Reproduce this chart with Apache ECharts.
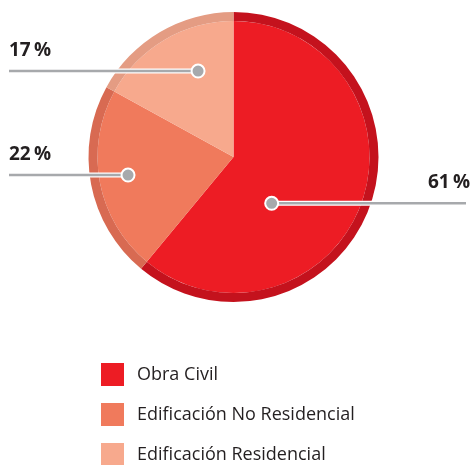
<!DOCTYPE html>
<html>
<head>
<meta charset="utf-8">
<script src="https://cdn.jsdelivr.net/npm/echarts@6/dist/echarts.min.js"></script>
<style>
  html, body { margin: 0; padding: 0; background: #fff; }
  #chart { width: 473px; height: 465px; }
</style>
</head>
<body>
<div id="chart"></div>
<script>
// datos
const categories = ['Obra Civil', 'Edificación No Residencial', 'Edificación Residencial']
const shares = [61, 22, 17]

// colores: relleno y anillo exterior
const fillColors = ['#ED1C24', '#F07A5C', '#F7A98D']
const ringColors = ['#C4121D', '#D86A52', '#E49C83']

// posición de los marcadores (radio, ángulo) y lado de la etiqueta
const calloutAnchors = [[60, 140.5, 'right'], [107, 260.3, 'left'], [93, 337.6, 'left']]

const CX = 233.5, CY = 157, R = 145, RING = 9

const chart = echarts.init(document.getElementById('chart'), null, { renderer: 'canvas' })

const pieData = categories.map((name, i) => ({ name, value: shares[i], itemStyle: { color: fillColors[i] } }))
const ringData = categories.map((name, i) => ({ name, value: shares[i], itemStyle: { color: ringColors[i] } }))

const calloutData = calloutAnchors.map((a, i) => [a[0], a[1], shares[i] + '\u2009%', a[2]])

chart.setOption({
  animation: false,
  backgroundColor: '#fff',
  polar: { center: [CX, CY], radius: R },
  angleAxis: { type: 'value', min: 0, max: 360, startAngle: 90, clockwise: true, show: false },
  radiusAxis: { type: 'value', min: 0, max: R, show: false },
  legend: {
    data: categories,
    orient: 'vertical',
    left: 101,
    top: 363,
    height: 120,
    padding: 0,
    itemWidth: 23,
    itemHeight: 23,
    itemGap: 17,
    icon: 'rect',
    selectedMode: false,
    textStyle: { fontFamily: 'Open Sans', fontSize: 18, color: '#231F20', padding: [6, 0, 0, 8] }
  },
  series: [
    {
      type: 'pie',
      center: [CX, CY],
      radius: [0, R - RING],
      startAngle: 90,
      clockwise: true,
      silent: true,
      label: { show: false },
      labelLine: { show: false },
      data: pieData
    },
    {
      type: 'pie',
      center: [CX, CY],
      radius: [R - RING, R],
      startAngle: 90,
      clockwise: true,
      silent: true,
      label: { show: false },
      labelLine: { show: false },
      data: ringData
    },
    {
      type: 'custom',
      coordinateSystem: 'polar',
      silent: true,
      z: 10,
      data: calloutData,
      renderItem: (params, api) => {
        const p = api.coord([api.value(0), api.value(1)])
        const item = calloutData[params.dataIndex]
        const left = item[3] === 'left'
        const endX = left ? 9 : 466
        return {
          type: 'group',
          children: [
            { type: 'line', shape: { x1: p[0], y1: p[1], x2: endX, y2: p[1] }, style: { stroke: '#fff', lineWidth: 5 } },
            { type: 'line', shape: { x1: p[0], y1: p[1], x2: endX, y2: p[1] }, style: { stroke: '#A7A9AC', lineWidth: 2.5 } },
            { type: 'circle', shape: { cx: p[0], cy: p[1], r: 6.5 }, style: { fill: '#A7A9AC', stroke: '#fff', lineWidth: 2 } },
            {
              type: 'text',
              x: left ? 9 : 470,
              y: p[1] - 11,
              style: {
                text: item[2],
                fontFamily: 'Open Sans',
                fontWeight: 'bold',
                fontSize: 19,
                fill: '#231F20',
                align: left ? 'left' : 'right',
                verticalAlign: 'bottom'
              }
            }
          ]
        }
      }
    }
  ]
})

window.addEventListener('resize', () => {
  chart.resize()
})
</script>
</body>
</html>
